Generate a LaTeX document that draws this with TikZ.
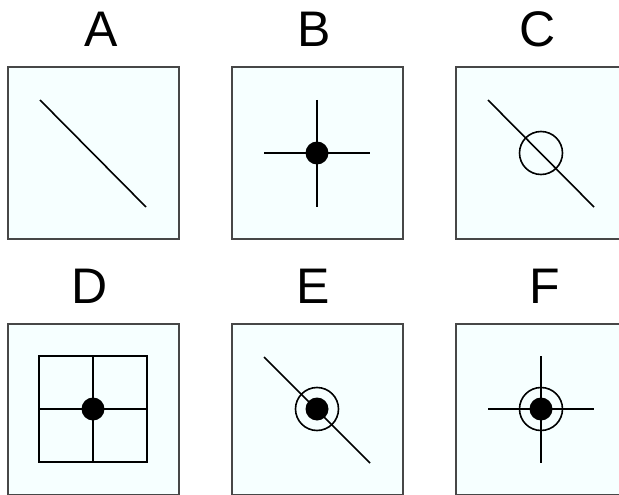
\documentclass[tikz,border=0pt]{standalone}
\usepackage{fontspec}
\setmainfont{Liberation Sans}
\begin{document}
\begin{tikzpicture}[x=1pt,y=-1pt,
  panel/.style={draw=black!72,line width=2pt,fill={rgb,255:red,246;green,255;blue,255}},
  stroke/.style={draw=black,line width=1.6pt},
  dot/.style={fill=black},
  lbl/.style={font=\fontsize{50}{50}\selectfont,anchor=base}]
\useasboundingbox (0,0) rectangle (619,495);
\clip (0,0) rectangle (619,495);
% panels
\foreach \n/\x/\y/\t/\lx in {A/93/153/A/101,B/317/153/B/314,C/541/153/C/538,D/93/409/D/90,E/317/409/E/313,F/541/409/F/545}{
  \node[panel,minimum size=171pt,inner sep=0pt] (\n) at (\x,\y) {};
  \node[lbl] (l\n) at (\lx,\y-106) {\t};
}
% A
\draw[stroke] (A.center) ++(-53,-53) -- ++(106,107);
% B
\draw[stroke] (B.center) ++(-53,0) -- ++(106,0);
\draw[stroke] (B.center) ++(0,-53) -- ++(0,107);
\fill[dot] (B.center) circle (11.5);
% C
\draw[stroke] (C.center) ++(-53,-53) -- ++(106,107);
\draw[stroke] (C.center) circle (21.5);
% D
\draw[stroke] (D.center) ++(-54,-53) rectangle ++(108,106);
\draw[stroke] (D.center) ++(-54,0) -- ++(108,0);
\draw[stroke] (D.center) ++(0,-53) -- ++(0,106);
\fill[dot] (D.center) circle (11.5);
% E
\draw[stroke] (E.center) ++(-53,-52) -- ++(106,106);
\draw[stroke] (E.center) circle (21.5);
\fill[dot] (E.center) circle (11.5);
% F
\draw[stroke] (F.center) ++(-53,0) -- ++(106,0);
\draw[stroke] (F.center) ++(0,-53) -- ++(0,107);
\draw[stroke] (F.center) circle (21.5);
\fill[dot] (F.center) circle (11.5);
\end{tikzpicture}
\end{document}
